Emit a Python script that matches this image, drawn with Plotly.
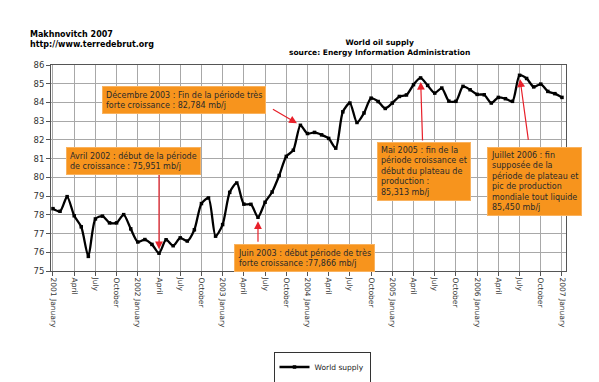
import plotly.graph_objects as go

# ---- data ----
years = [2001, 2002, 2003, 2004, 2005, 2006, 2007]
month_names = ["January", "February", "March", "April", "May", "June", "July",
               "August", "September", "October", "November", "December"]
supply = [
    # 2001
    78.33, 78.19, 78.97, 77.95, 77.36, 75.78, 77.78, 77.93, 77.57, 77.57, 78.01, 77.25,
    # 2002
    76.55, 76.68, 76.42, 75.95, 76.67, 76.35, 76.77, 76.60, 77.20, 78.60, 78.90, 76.86,
    # 2003
    77.48, 79.20, 79.70, 78.57, 78.56, 77.87, 78.67, 79.22, 80.10, 81.12, 81.45, 82.78,
    # 2004
    82.34, 82.40, 82.27, 82.08, 81.56, 83.50, 83.97, 82.93, 83.44, 84.23, 84.05, 83.68,
    # 2005
    83.97, 84.32, 84.40, 84.95, 85.31, 84.91, 84.50, 84.77, 84.07, 84.06, 84.86, 84.68,
    # 2006
    84.43, 84.41, 83.97, 84.27, 84.20, 84.06, 85.45, 85.28, 84.83, 84.98, 84.59, 84.47,
    # 2007
    84.27,
]
month_labels = [f"{years[i // 12]} {month_names[i % 12]}" for i in range(len(supply))]
x_idx = list(range(len(supply)))

tick_idx = [i for i in x_idx if i % 3 == 0]
tick_text = [f"{years[i // 12]} January" if i % 12 == 0 else month_names[i % 12] for i in tick_idx]

y_ticks = list(range(75, 87))

notes_month = ["2002 April", "2003 December", "2003 June", "2005 May", "2006 July"]
notes_text = [
    "Avril 2002 : début de la période<br>de croissance : 75,951 mb/j",
    "Décembre 2003 : Fin de la période très<br>forte croissance : 82,784 mb/j",
    "Juin 2003 : début période de très<br>forte croissance :77,866 mb/j",
    "Mai 2005 : fin de la<br>période croissance et<br>début du plateau de<br>production :<br>85,313 mb/j",
    "Juillet 2006 : fin<br>supposée de la<br>période de plateau et<br>pic de production<br>mondiale tout liquide<br>85,450 mb/j",
]

# ---- layout helpers ----
W, H = 599, 382
ML, MR, MT, MB = 43, 41, 57, 119
PW, PH = W - ML - MR, H - MT - MB


def px_x(px):
    return (px - ML) / PW


def px_y(py):
    return (H - MB - py) / PH


FONT = "DejaVu Sans, Verdana, sans-serif"
ORANGE = "#f7941d"
RED = "#e8202a"

fig = go.Figure()
fig.add_trace(go.Scatter(
    x=x_idx, y=supply, mode="lines+markers", name="World supply",
    line=dict(color="black", width=2.3, shape="spline", smoothing=0.7),
    marker=dict(color="black", size=3.5, symbol="square"),
    text=month_labels, hoverinfo="text+y",
))

annotations = []
# box positions (top-left corner, px) and arrow tails (px offsets)
box_pos = [(58, 139), (94, 78), (226, 236), (369, 134), (479, 139)]
arrow_off = [(0, -85), (-29, -17), (0, 26), (2, 64), (9, 66)]
for m, txt, (bx, by), (ax, ay) in zip(notes_month, notes_text, box_pos, arrow_off):
    k = month_labels.index(m)
    annotations.append(dict(
        x=k, y=supply[k], xref="x", yref="y", text="", showarrow=True,
        ax=ax, ay=ay, arrowcolor=RED, arrowwidth=1.2, arrowhead=2, arrowsize=1.3,
        standoff=4,
    ))
    annotations.append(dict(
        x=px_x(bx), y=px_y(by), xref="paper", yref="paper", xanchor="left", yanchor="top",
        text=txt, showarrow=False, align="left", bgcolor=ORANGE, bordercolor="#f9b25e",
        borderwidth=1, borderpad=3, font=dict(family=FONT, size=8, color="#2a2a2a"),
    ))

annotations.append(dict(
    x=px_x(20), y=px_y(20), xref="paper", yref="paper", xanchor="left", yanchor="top",
    text="<b>Makhnovitch 2007<br>http://www.terredebrut.org</b>", showarrow=False, align="left",
    font=dict(family=FONT, size=8, color="black"),
))
annotations.append(dict(
    x=px_x(371), y=px_y(28), xref="paper", yref="paper", xanchor="center", yanchor="top",
    text="<b>World oil supply<br>source: Energy Information Administration</b>", showarrow=False,
    align="center", font=dict(family=FONT, size=7.5, color="black"),
))

fig.update_layout(
    width=W, height=H,
    margin=dict(l=ML, r=MR, t=MT, b=MB, autoexpand=False),
    paper_bgcolor="white", plot_bgcolor="white",
    font=dict(family=FONT, size=8, color="#333333"),
    showlegend=True,
    legend=dict(
        xref="container", yref="container",
        x=314 / W, y=(H - 359) / H, xanchor="center", yanchor="middle",
        orientation="h", bordercolor="#333333", borderwidth=1, bgcolor="white",
        font=dict(family=FONT, size=7.5, color="#222222"), itemwidth=30,
    ),
    annotations=annotations,
    xaxis=dict(
        range=[-0.28, 72.57], tickmode="array", tickvals=tick_idx, ticktext=tick_text,
        tickangle=90, tickfont=dict(family=FONT, size=7.5, color="#333333"),
        showgrid=True, gridcolor="#a8a8a8", gridwidth=1,
        showline=True, linecolor="#555555", linewidth=1, mirror=True,
        ticks="outside", ticklen=4, tickcolor="#555555", zeroline=False, automargin=False,
    ),
    yaxis=dict(
        range=[75, 86], tickmode="array", tickvals=y_ticks,
        tickfont=dict(family=FONT, size=8.5, color="#333333"),
        showgrid=True, gridcolor="#a8a8a8", gridwidth=1,
        showline=True, linecolor="#555555", linewidth=1, mirror=True,
        ticks="outside", ticklen=4, tickcolor="#555555", zeroline=False, automargin=False,
    ),
)

fig.write_html("out.html")
